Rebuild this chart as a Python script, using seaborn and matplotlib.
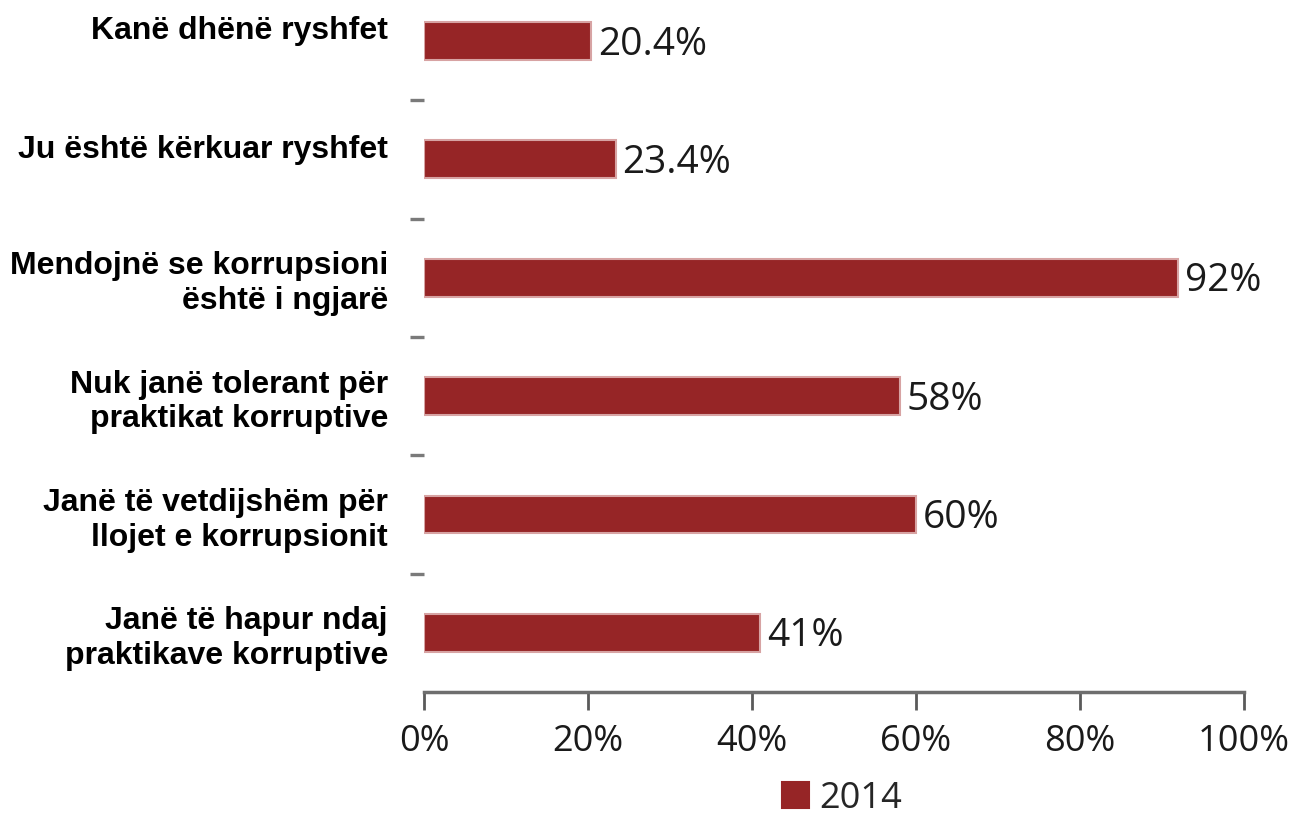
import numpy as np
import matplotlib
matplotlib.use('Agg')
import matplotlib.pyplot as plt
import matplotlib.transforms as mtransforms
import seaborn as sns
import pandas as pd

# Data
categories = ['Kanë dhënë ryshfet',
              'Ju është kërkuar ryshfet',
              'Mendojnë se korrupsioni\nështë i ngjarë',
              'Nuk janë tolerant për\npraktikat korruptive',
              'Janë të vetdijshëm për\nllojet e korrupsionit',
              'Janë të hapur ndaj\npraktikave korruptive']
values = [20.4, 23.4, 92, 58, 60, 41]
value_labels = ['20.4%', '23.4%', '92%', '58%', '60%', '41%']
series_name = '2014'
x_ticks = [0, 20, 40, 60, 80, 100]
x_tick_labels = ['0%', '20%', '40%', '60%', '80%', '100%']

df = pd.DataFrame({'cat': categories, 'val': values, 'year': series_name})

sns.set_style('white')
plt.rcParams['font.family'] = ['Open Sans', 'DejaVu Sans']

fig = plt.figure(figsize=(12.95, 8.19), dpi=100)
ax = fig.add_axes([424 / 1295, 1 - 692 / 819, 820 / 1295, 692 / 819])

bar_color = '#962526'
sns.barplot(data=df, y='cat', x='val', hue='year', orient='h',
            palette=[bar_color], saturation=1, width=0.32, ax=ax,
            edgecolor='#d7a3a3', linewidth=1.5)

ax.set_xlim(0, 100)
ax.set_ylim(5.5, -0.346)
ax.set_xlabel('')
ax.set_ylabel('')

ax.set_xticks(x_ticks)
ax.set_xticklabels(x_tick_labels, fontsize=26, color='#1a1a1a')
ax.tick_params(axis='x', bottom=True, length=13, width=2, color='#5a5a5a',
               pad=10, direction='out')

ax.set_yticks(range(len(categories)))
ax.set_yticklabels(categories, fontsize=23, fontweight='bold',
                   family=['Liberation Sans', 'DejaVu Sans'], color='black',
                   linespacing=1.2)
ax.tick_params(axis='y', length=0, pad=26)
ax.set_yticks(np.arange(0.5, len(categories) - 0.5, 1), minor=True)
ax.tick_params(axis='y', which='minor', left=True, length=10, width=2.4,
               color='#7a7a7a')

# single-line labels sit a bit higher in the original
for lab in ax.get_yticklabels():
    if '\n' not in lab.get_text():
        lab.set_transform(lab.get_transform() +
                          mtransforms.ScaledTranslation(0, 0.13, fig.dpi_scale_trans))

for s in ['top', 'right', 'left']:
    ax.spines[s].set_visible(False)
ax.spines['bottom'].set_color('#6e6e6e')
ax.spines['bottom'].set_linewidth(2.5)

for i, (v, lab) in enumerate(zip(values, value_labels)):
    ax.text(v + 0.8, i + 0.03, lab, va='center', ha='left', fontsize=28,
            color='#1a1a1a')

leg = ax.legend(loc='upper center', bbox_to_anchor=(0.51, -0.128), frameon=False,
                fontsize=26, handlelength=0.75, handleheight=0.75,
                handletextpad=0.3, borderaxespad=0, borderpad=0)
for h in leg.legend_handles:
    h.set_edgecolor(bar_color)

fig.savefig('out.png', dpi=100)
